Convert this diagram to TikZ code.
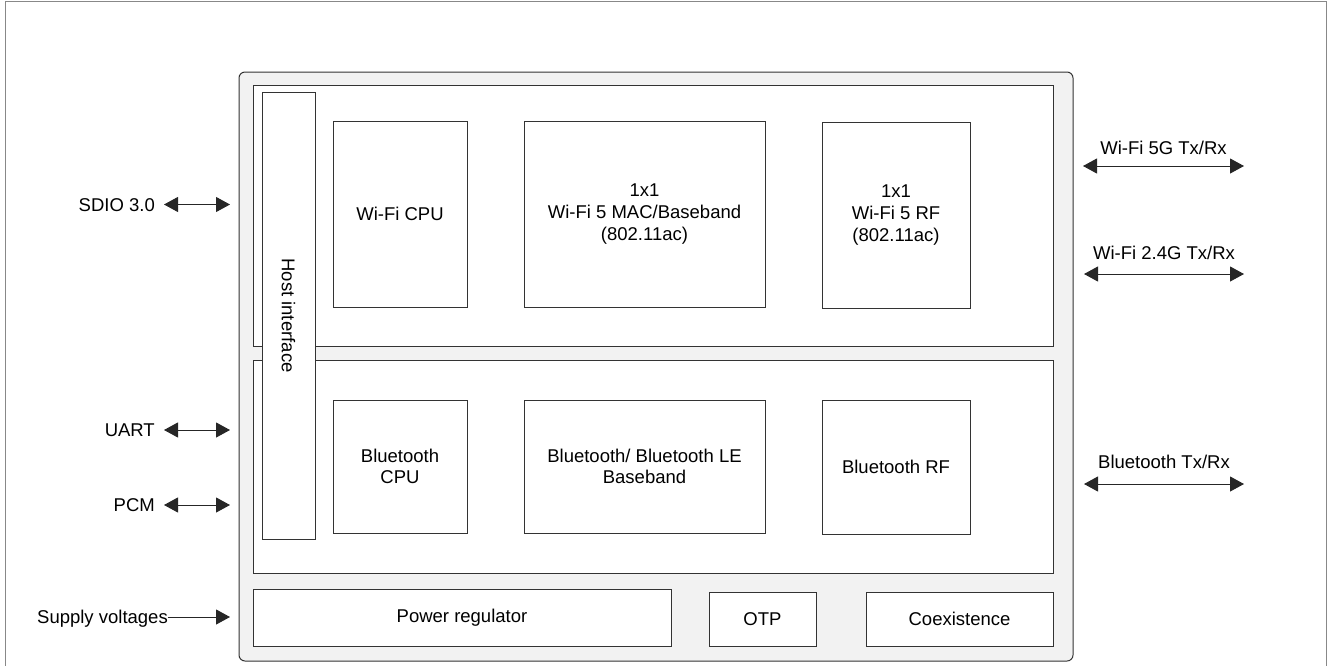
\documentclass[tikz,border=0pt]{standalone}
\usepackage{fontspec}
\setmainfont{Liberation Sans}
\usetikzlibrary{arrows.meta}
\definecolor{chipgray}{HTML}{F2F2F2}
\definecolor{edge}{HTML}{333333}
\definecolor{frame}{HTML}{888888}
\begin{document}
\begin{tikzpicture}[x=1pt,y=-1pt,
  every node/.style={font=\fontsize{18.5}{21.7}\selectfont},
  blk/.style={draw=edge, line width=1pt, fill=white, rectangle, inner sep=0pt, align=center},
  lbl/.style={inner sep=0pt, text height=13.2pt, text depth=0pt},
  bi/.style={line width=1pt, draw=black!85, {Triangle[length=14pt,width=15pt]}-{Triangle[length=14pt,width=15pt]}},
  uni/.style={line width=1pt, draw=black!85, -{Triangle[length=14pt,width=15pt]}}]
\useasboundingbox (0,0) rectangle (1330,665);
% outer frame (bottom edge outside the picture)
\draw[frame, line width=1pt] (5,670) -- (5,1) -- (1326,1) -- (1326,670);
% chip
\node[draw=edge, line width=1pt, fill=chipgray, rounded corners=6pt, minimum width=834, minimum height=589, inner sep=0pt] (chip) at (656,366.5) {};
\node[blk, minimum width=800, minimum height=261] (wpanel) at (653,215.5) {};
\node[blk, minimum width=800, minimum height=213] (bpanel) at (653,466.5) {};
\node[blk, rotate=-90, minimum width=447, minimum height=53] (host) at (288.5,315.5) {Host interface};
% Wi-Fi blocks
\node[blk, minimum width=134, minimum height=186] (wcpu) at (400,214) {Wi-Fi CPU};
\node[blk, minimum width=241, minimum height=186] (wmac) at (644.5,214) {1x1\\Wi-Fi 5 MAC/Baseband\\(802.11ac)};
\node[blk, minimum width=148, minimum height=186] (wrf) at (896,215) {1x1\\Wi-Fi 5 RF\\(802.11ac)};
% Bluetooth blocks
\node[blk, minimum width=134, minimum height=133] (bcpu) at (400,466.5) {Bluetooth\\CPU};
\node[blk, minimum width=241, minimum height=133] (bbb) at (644.5,466.5) {Bluetooth/ Bluetooth LE\\Baseband};
\node[blk, minimum width=148, minimum height=134] (brf) at (896,467) {Bluetooth RF};
% bottom row
\node[blk, minimum width=418, minimum height=57] (pwr) at (462,617.5) {Power regulator};
\node[blk, minimum width=107, minimum height=54] (otp) at (762.5,619) {OTP};
\node[blk, minimum width=187, minimum height=54] (coex) at (959.5,619) {Coexistence};
% left interfaces
\node[lbl, anchor=east] (sdio) at (155,204.5) {SDIO 3.0};
\node[lbl, anchor=east] (uart) at (155,430) {UART};
\node[lbl, anchor=east] (pcm) at (155,505) {PCM};
\node[lbl, anchor=east] (sup) at (168,617) {Supply voltages};
\coordinate (sdioR) at (230,204.5);
\coordinate (uartR) at (230,430);
\coordinate (pcmR) at (230,505);
\coordinate (supR) at (230,617);
\draw[bi, shorten <=9pt] (sdio) -- (sdioR);
\draw[bi, shorten <=9pt] (uart) -- (uartR);
\draw[bi, shorten <=9pt] (pcm) -- (pcmR);
\draw[uni] (sup) -- (supR);
% right interfaces
\coordinate (w5L) at (1083,166);  \coordinate (w5R) at (1244,166);
\coordinate (w24L) at (1084,274); \coordinate (w24R) at (1244,274);
\coordinate (btL) at (1084,484);  \coordinate (btR) at (1244,484);
\draw[bi] (w5L) -- node[lbl, above=11pt] (w5lbl) {Wi-Fi 5G Tx/Rx} (w5R);
\draw[bi] (w24L) -- node[lbl, above=14pt] (w24lbl) {Wi-Fi 2.4G Tx/Rx} (w24R);
\draw[bi] (btL) -- node[lbl, above=15pt] (btlbl) {Bluetooth Tx/Rx} (btR);
\end{tikzpicture}
\end{document}
